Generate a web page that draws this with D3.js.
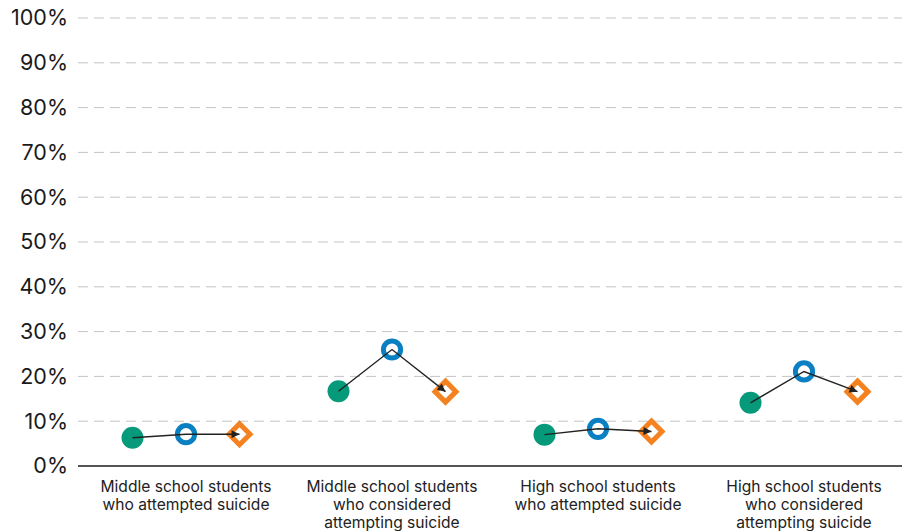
<!DOCTYPE html>
<html>
<head>
<meta charset="utf-8">
<script src="https://cdn.jsdelivr.net/npm/d3@7"></script>
<style>
  html, body { margin: 0; padding: 0; background: #fff; }
  svg text { font-family: Inter, "Noto Sans", sans-serif; }
</style>
</head>
<body>
<svg id="chart" width="902" height="531"></svg>
<script>
// Categories (x axis) and the three measured values per category (percent)
const categories = [
  ["Middle school students", "who attempted suicide"],
  ["Middle school students", "who considered", "attempting suicide"],
  ["High school students", "who attempted suicide"],
  ["High school students", "who considered", "attempting suicide"]
];
const seriesA = [6.3, 16.7, 7.0, 14.1];   // filled green circle
const seriesB = [7.1, 26.0, 8.3, 21.1];   // open blue circle
const seriesC = [7.1, 16.6, 7.7, 16.6];   // open orange diamond
const yTicks = [0, 10, 20, 30, 40, 50, 60, 70, 80, 90, 100];

(function () {
const svg = d3.select("#chart");
const plotLeft = 78, plotRight = 902, plotTop = 18, plotBottom = 466;

const x = d3.scaleBand().domain(d3.range(categories.length)).range([83, 907]);
const y = d3.scaleLinear().domain([0, 100]).range([plotBottom, plotTop]);
const offset = 53.5;

// gridlines
svg.append("g").selectAll("line").data(yTicks.filter(d => d > 0)).join("line")
  .attr("x1", plotLeft).attr("x2", plotRight)
  .attr("y1", d => y(d)).attr("y2", d => y(d))
  .attr("stroke", "#c4c4c4").attr("stroke-width", 1)
  .attr("stroke-dasharray", "10,6");

// y axis labels
const yAxis = svg.append("g").attr("transform", `translate(${plotLeft},0)`)
  .call(d3.axisLeft(y).tickValues(yTicks).tickFormat(d => d + "%").tickSize(0).tickPadding(10));
yAxis.select(".domain").remove();
yAxis.selectAll("text").attr("font-size", 21.5).attr("fill", "#1a1a1a")
  .style("font-family", "Inter, 'Noto Sans', sans-serif");

// baseline
svg.append("line").attr("x1", plotLeft).attr("x2", plotRight)
  .attr("y1", y(0)).attr("y2", y(0))
  .attr("stroke", "#555").attr("stroke-width", 2);

// x labels
const xl = svg.append("g").selectAll("text").data(categories).join("text")
  .attr("text-anchor", "middle").attr("font-size", 15.6).attr("fill", "#222")
  .attr("x", (d, i) => x(i) + x.bandwidth() / 2)
  .attr("y", 492);
xl.selectAll("tspan").data(d => d).join("tspan")
  .attr("x", function () { return d3.select(this.parentNode).attr("x"); })
  .attr("dy", (d, i) => i === 0 ? 0 : 17.8)
  .text(d => d);

// arrow marker
svg.append("defs").append("marker")
  .attr("id", "arrow").attr("viewBox", "0 0 10 10")
  .attr("refX", 10).attr("refY", 5)
  .attr("markerWidth", 9).attr("markerHeight", 8)
  .attr("markerUnits", "userSpaceOnUse")
  .attr("orient", "auto")
  .append("path").attr("d", "M0,0 L10,5 L0,10 Z").attr("fill", "#222");

const cx = i => x(i) + x.bandwidth() / 2;
const idx = d3.range(categories.length);

const g = svg.append("g");
g.selectAll("circle.a").data(idx).join("circle").attr("class", "a")
  .attr("cx", i => cx(i) - offset).attr("cy", i => y(seriesA[i]))
  .attr("r", 11).attr("fill", "#079a7a");

g.selectAll("circle.b").data(idx).join("circle").attr("class", "b")
  .attr("cx", i => cx(i)).attr("cy", i => y(seriesB[i]))
  .attr("r", 8.6).attr("fill", "#fff").attr("stroke", "#0a80c2").attr("stroke-width", 5);

g.selectAll("path.c").data(idx).join("path").attr("class", "c")
  .attr("transform", i => `translate(${cx(i) + offset},${y(seriesC[i])})`)
  .attr("d", "M0,-10.5 L10.5,0 L0,10.5 L-10.5,0 Z")
  .attr("fill", "#fff").attr("stroke", "#f58220").attr("stroke-width", 5);

// connecting arrow from first to last value, drawn over the markers
const line = d3.line();
g.selectAll("path.arrow").data(idx).join("path").attr("class", "arrow")
  .attr("d", i => line([
    [cx(i) - offset, y(seriesA[i])],
    [cx(i), y(seriesB[i])],
    [cx(i) + offset, y(seriesC[i])]
  ]))
  .attr("fill", "none").attr("stroke", "#222").attr("stroke-width", 1.4)
  .attr("marker-end", "url(#arrow)");
})();
</script>
</body>
</html>
